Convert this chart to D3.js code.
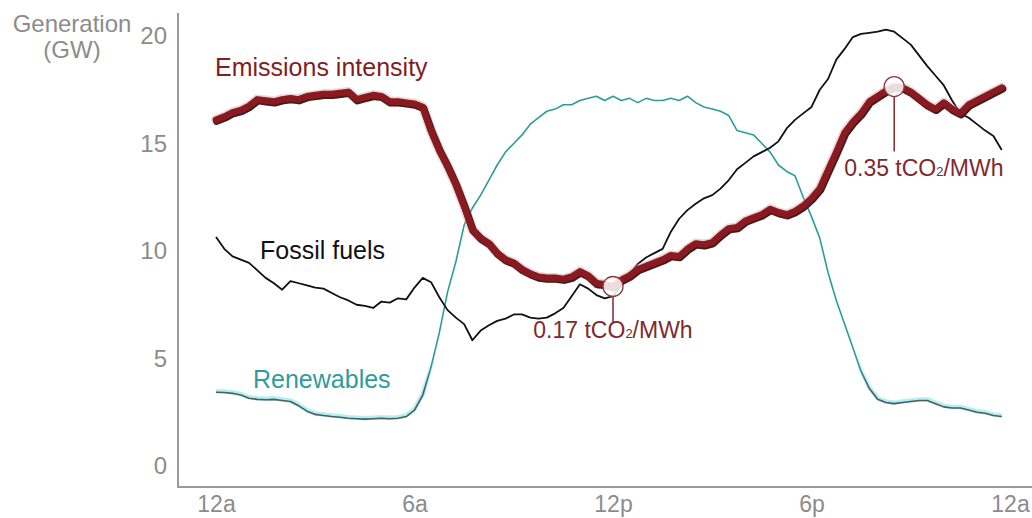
<!DOCTYPE html>
<html>
<head>
<meta charset="utf-8">
<script src="https://cdn.jsdelivr.net/npm/d3@7"></script>
<style>
  html, body { margin: 0; padding: 0; background: #fff; }
  svg { display: block; font-family: "Liberation Sans", Arial, sans-serif; }
</style>
</head>
<body>
<svg id="chart" width="1032" height="518"></svg>
<script>
// ---- DATA (quarter-hour readings, 12a to 11:45p) ----
const hours = d3.range(96).map(i => i / 4);

// Renewables generation (GW)
const renewables = [
  3.43, 3.42, 3.38, 3.30, 3.15, 3.10, 3.08, 3.10,
  3.05, 3.00, 2.80, 2.55, 2.40, 2.35, 2.30, 2.27,
  2.22, 2.20, 2.18, 2.20, 2.22, 2.20, 2.22, 2.30,
  2.60, 3.30, 4.60, 6.20, 8.10, 9.50, 11.2, 12.0,
  12.6, 13.3, 14.0, 14.6, 15.0, 15.4, 15.9, 16.2,
  16.5, 16.6, 16.8, 16.8, 17.0, 17.1, 17.2, 17.0,
  17.2, 17.0, 17.1, 16.9, 17.1, 17.0, 17.0, 17.1,
  17.0, 17.2, 16.9, 16.7, 16.6, 16.5, 16.3, 15.6,
  15.5, 15.4, 15.0, 14.6, 14.0, 13.7, 13.5, 12.5,
  11.6, 10.6, 9.00, 7.70, 6.60, 5.50, 4.40, 3.60,
  3.10, 2.95, 2.90, 2.95, 3.00, 3.05, 3.05, 2.90,
  2.75, 2.70, 2.70, 2.60, 2.50, 2.45, 2.35, 2.30
];

// Fossil fuels generation (GW)
const fossil = [
  10.65, 10.1, 9.75, 9.60, 9.45, 9.10, 8.75, 8.50,
  8.20, 8.60, 8.50, 8.40, 8.30, 8.25, 8.05, 7.85,
  7.70, 7.50, 7.45, 7.35, 7.65, 7.60, 7.80, 7.75,
  8.30, 8.75, 8.55, 7.85, 7.25, 6.90, 6.60, 5.85,
  6.30, 6.55, 6.75, 6.85, 7.05, 7.05, 6.90, 6.85,
  6.90, 7.10, 7.35, 7.90, 8.45, 8.25, 7.95, 7.80,
  7.90, 8.40, 8.90, 9.40, 9.70, 9.90, 10.1, 10.9,
  11.5, 11.9, 12.2, 12.45, 12.6, 12.9, 13.3, 13.8,
  14.1, 14.4, 14.6, 14.8, 15.1, 15.7, 16.1, 16.4,
  16.7, 17.5, 18.0, 18.9, 19.4, 19.95, 20.1, 20.15,
  20.2, 20.3, 20.2, 19.9, 19.6, 19.1, 18.6, 18.15,
  17.7, 17.0, 16.4, 16.2, 15.9, 15.6, 15.35, 14.7
];

// Emissions intensity (tCO2/MWh)
const intensity = [
  0.322, 0.325, 0.329, 0.331, 0.335, 0.341, 0.340, 0.339,
  0.341, 0.342, 0.341, 0.344, 0.345, 0.346, 0.346, 0.347,
  0.348, 0.341, 0.343, 0.345, 0.344, 0.339, 0.339, 0.338,
  0.337, 0.334, 0.312, 0.294, 0.279, 0.262, 0.242, 0.220,
  0.212, 0.207, 0.198, 0.192, 0.189, 0.183, 0.179, 0.176,
  0.175, 0.175, 0.174, 0.176, 0.181, 0.177, 0.170, 0.169,
  0.167, 0.173, 0.177, 0.183, 0.186, 0.189, 0.192, 0.196,
  0.195, 0.202, 0.207, 0.206, 0.208, 0.215, 0.221, 0.222,
  0.228, 0.231, 0.234, 0.239, 0.236, 0.234, 0.237, 0.242,
  0.249, 0.258, 0.275, 0.292, 0.310, 0.320, 0.328, 0.339,
  0.344, 0.349, 0.353, 0.352, 0.348, 0.342, 0.336, 0.332,
  0.338, 0.332, 0.328, 0.336, 0.340, 0.344, 0.348, 0.352
];

const xTickValues = [0, 6, 12, 18, 24];
const xTickLabels = ["12a", "6a", "12p", "6p", "12a"];
const yTickValues = [0, 5, 10, 15, 20];
const seriesLabels = ["Emissions intensity", "Fossil fuels", "Renewables"];
const axisTitle = ["Generation", "(GW)"];

// ---- SCALES ----
const svg = d3.select("#chart");
const x = d3.scaleLinear().domain([0, 24]).range([216, 1010]);
const y = d3.scaleLinear().domain([0, 20]).range([466, 36]);
const yI = d3.scaleLinear().domain([0, 0.4]).range([466, 36]); // intensity shares the chart height

const gray = "#8c8c8c";
const red = "#8a1a1f";
const annoRed = "#7e2a30";
const font = '"Liberation Sans", Arial, sans-serif';

// ---- AXES ----
const yAxis = d3.axisLeft(y).tickValues(yTickValues).tickSize(0).tickPadding(11);
const gy = svg.append("g").attr("transform", "translate(178,0)").call(yAxis);
gy.select(".domain").remove();
gy.selectAll("text").attr("fill", gray).style("font-size", "24px").style("font-family", font);

const xAxis = d3.axisBottom(x).tickValues(xTickValues)
  .tickFormat((d, i) => xTickLabels[i]).tickSize(0).tickPadding(9);
const gx = svg.append("g").attr("transform", "translate(0,487)").call(xAxis);
gx.select(".domain").remove();
gx.selectAll("text").attr("fill", gray).style("font-size", "23px").style("font-family", font);

svg.append("line").attr("x1", 178).attr("x2", 178).attr("y1", 13).attr("y2", 488)
  .attr("stroke", "#9a9a9a").attr("stroke-width", 2);
svg.append("line").attr("x1", 177).attr("x2", 1032).attr("y1", 487).attr("y2", 487)
  .attr("stroke", "#9a9a9a").attr("stroke-width", 2);

const title = svg.append("text").attr("fill", gray).attr("text-anchor", "middle")
  .style("font-size", "24px");
title.append("tspan").attr("x", 72).attr("y", 32).text(axisTitle[0]);
title.append("tspan").attr("x", 72).attr("y", 58).text(axisTitle[1]);

// ---- LINES ----
const lineGen = (vals, sc) => d3.line()
  .x((d, i) => x(hours[i]))
  .y(d => sc(d))
  .curve(d3.curveLinear)(vals);

// renewables gradient (greyish at low values, teal above)
const defs = svg.append("defs");
const grad = defs.append("linearGradient").attr("id", "renGrad")
  .attr("gradientUnits", "userSpaceOnUse")
  .attr("x1", 0).attr("x2", 0).attr("y1", y(0)).attr("y2", y(20));
grad.append("stop").attr("offset", "0%").attr("stop-color", "#505c5e");
grad.append("stop").attr("offset", "17%").attr("stop-color", "#505c5e");
grad.append("stop").attr("offset", "24%").attr("stop-color", "#2b9c9a");
grad.append("stop").attr("offset", "100%").attr("stop-color", "#2b9c9a");
const glowGrad = defs.append("linearGradient").attr("id", "glowGrad")
  .attr("gradientUnits", "userSpaceOnUse")
  .attr("x1", 0).attr("x2", 0).attr("y1", y(0)).attr("y2", y(20));
glowGrad.append("stop").attr("offset", "0%").attr("stop-color", "#a9eef2").attr("stop-opacity", 0.9);
glowGrad.append("stop").attr("offset", "18%").attr("stop-color", "#a9eef2").attr("stop-opacity", 0.9);
glowGrad.append("stop").attr("offset", "26%").attr("stop-color", "#a9eef2").attr("stop-opacity", 0);
glowGrad.append("stop").attr("offset", "100%").attr("stop-color", "#a9eef2").attr("stop-opacity", 0);

svg.append("path").attr("d", lineGen(renewables, y))
  .attr("fill", "none").attr("stroke", "url(#glowGrad)").attr("stroke-width", 4.5)
  .attr("transform", "translate(0,-1)").attr("stroke-linejoin", "round");
svg.append("path").attr("d", lineGen(renewables, y))
  .attr("fill", "none").attr("stroke", "url(#renGrad)").attr("stroke-width", 1.6)
  .attr("stroke-linejoin", "round");

svg.append("path").attr("d", lineGen(fossil, y))
  .attr("fill", "none").attr("stroke", "#111").attr("stroke-width", 1.8)
  .attr("stroke-linejoin", "round");

// emissions intensity: halo, shadow, core
svg.append("path").attr("d", lineGen(intensity, yI))
  .attr("fill", "none").attr("stroke", "#d9a0a3").attr("stroke-width", 10)
  .attr("stroke-opacity", 0.45).attr("stroke-linejoin", "round").attr("stroke-linecap", "round");
svg.append("path").attr("d", lineGen(intensity, yI))
  .attr("fill", "none").attr("stroke", "#3e1e1f").attr("stroke-width", 7.5)
  .attr("transform", "translate(0.8,1.2)")
  .attr("stroke-linejoin", "round").attr("stroke-linecap", "round");
svg.append("path").attr("d", lineGen(intensity, yI))
  .attr("fill", "none").attr("stroke", red).attr("stroke-width", 6.6)
  .attr("stroke-linejoin", "round").attr("stroke-linecap", "round");

// ---- SERIES LABELS ----
svg.append("text").attr("x", 215).attr("y", 76).attr("fill", "#7f1e23")
  .style("font-size", "25px").text(seriesLabels[0]);
svg.append("text").attr("x", 260).attr("y", 259).attr("fill", "#111")
  .style("font-size", "25px").text(seriesLabels[1]);
svg.append("text").attr("x", 253).attr("y", 388).attr("fill", "#2f9c9c")
  .style("font-size", "25px").text(seriesLabels[2]);

// ---- ANNOTATIONS (min and max intensity) ----
const iMin = d3.minIndex(intensity);
const iMax = d3.maxIndex(intensity);
const annotations = [
  { idx: iMin, lineLen: 27, textDy: 52, textDx: 0, anchor: "middle" },
  { idx: iMax, lineLen: 55, textDy: 89, textDx: -50, anchor: "start" }
];
annotations.forEach(a => {
  const cx = x(hours[a.idx]);
  const cy = yI(intensity[a.idx]);
  const r = 10;
  svg.append("line").attr("x1", cx).attr("x2", cx)
    .attr("y1", cy + r).attr("y2", cy + r + a.lineLen)
    .attr("stroke", annoRed).attr("stroke-width", 1.5);
  svg.append("circle").attr("cx", cx).attr("cy", cy).attr("r", r)
    .attr("fill", "#fff").attr("fill-opacity", 0.85)
    .attr("stroke", "#8a3a40").attr("stroke-width", 1.3);
  const t = svg.append("text").attr("x", cx + a.textDx).attr("y", cy + a.textDy)
    .attr("text-anchor", a.anchor).attr("fill", annoRed).style("font-size", "23px");
  t.append("tspan").text(d3.format(".2f")(intensity[a.idx]) + " tCO");
  t.append("tspan").style("font-size", "13px").text("2");
  t.append("tspan").text("/MWh");
});
</script>
</body>
</html>
